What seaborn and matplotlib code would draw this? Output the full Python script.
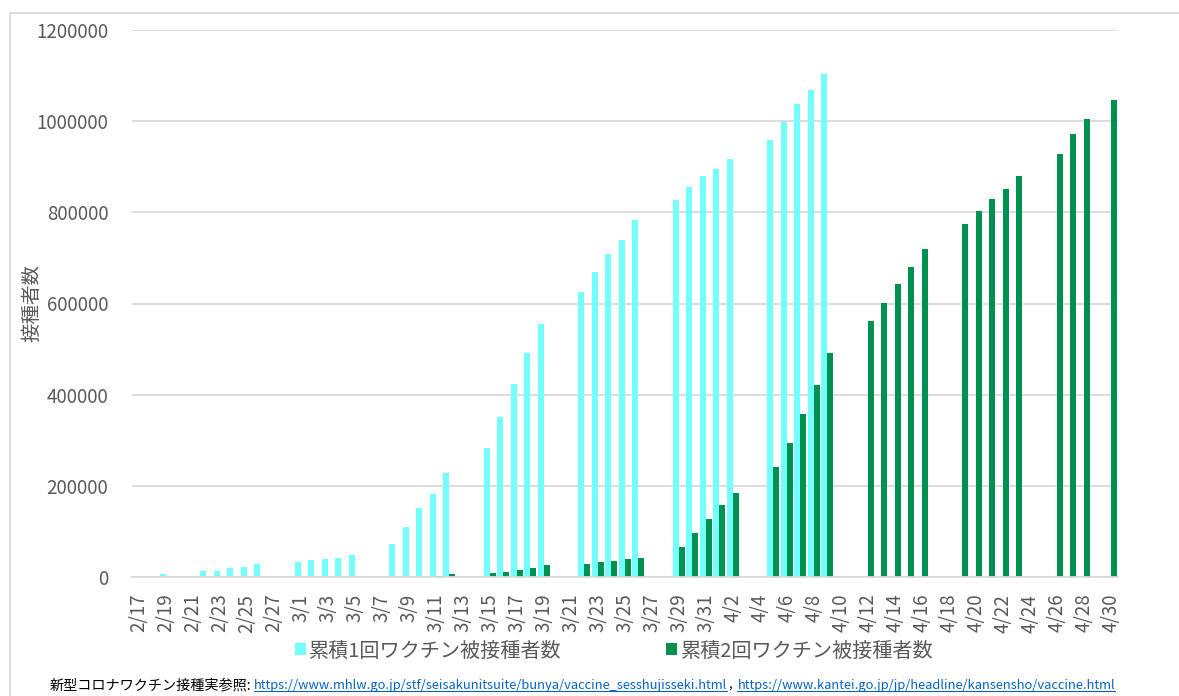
import numpy as np
import pandas as pd
import matplotlib
matplotlib.use("Agg")
import matplotlib.pyplot as plt
from matplotlib.lines import Line2D
from matplotlib.patches import Rectangle
import seaborn as sns

# ---------------- data ----------------
dates = [f"{d.month}/{d.day}" for d in pd.date_range("2021-02-17", "2021-04-30")]
N = None
first_dose = [
    # 2/17 - 2/28
    1500, 2000, 6500, N, N, 13000, 13000, 19000, 23000, 29500, N, N,
    # 3/1 - 3/14
    33500, 36500, 39000, 41500, 48000, N, N, 73000, 110000, 151000, 182500, 229000, N, N,
    # 3/15 - 3/28
    284000, 351000, 424000, 491000, 555000, N, N, 625000, 669000, 709000, 740000, 783000, N, N,
    # 3/29 - 4/11
    828000, 855000, 879000, 895000, 916000, N, N, 959000, 998500, 1038500, 1069000, 1103500, N, N,
    # 4/12 - 4/25
    N, N, N, N, N, N, N, N, N, N, N, N, N, N,
    # 4/26 - 4/30
    N, N, N, N, N,
]
second_dose = [
    # 2/17 - 2/28
    N, N, N, N, N, N, N, N, N, N, N, N,
    # 3/1 - 3/14
    N, N, N, N, N, N, N, N, N, N, 2000, 5500, N, N,
    # 3/15 - 3/28
    8500, 10800, 16000, 19700, 26700, N, N, 29500, 32500, 35600, 38600, 42400, N, N,
    # 3/29 - 4/11
    66600, 97600, 126300, 158100, 185300, N, N, 241300, 293500, 357800, 422100, 491700, N, N,
    # 4/12 - 4/25
    562000, 602100, 643700, 679300, 719400, N, N, 773800, 802600, 828300, 850200, 880500, N, N,
    # 4/26 - 4/30
    928100, 972000, 1003800, N, 1045400,
]
series_names = ["累積1回ワクチン被接種者数", "累積2回ワクチン被接種者数"]
y_ticks = [0, 200000, 400000, 600000, 800000, 1000000, 1200000]
y_label = "接種者数"
footnote_pieces = [
    ("新型コロナワクチン接種実参照:", "black", False, 10.2),
    ("https://www.mhlw.go.jp/stf/seisakunitsuite/bunya/vaccine_sesshujisseki.html", "#0563C1", True, 9.3),
    (", ", "black", False, 9.3),
    ("https://www.kantei.go.jp/jp/headline/kansensho/vaccine.html", "#0563C1", True, 9.3),
]
assert len(dates) == len(first_dose) == len(second_dose) == 73

df = pd.DataFrame({
    "date": dates * 2,
    "series": [series_names[0]] * len(dates) + [series_names[1]] * len(dates),
    "value": [np.nan if v is None else v for v in first_dose]
             + [np.nan if v is None else v for v in second_dose],
})

# ---------------- style ----------------
sns.set_theme(style="white")
plt.rcParams["font.family"] = ["Noto Sans CJK JP", "DejaVu Sans"]
GRAY_TXT = "#595959"
GRID = "#d9d9d9"
CYAN = "#73FFFF"
GREEN = "#00904F"

W, H = 1179, 696
fig = plt.figure(figsize=(W / 100, H / 100), dpi=100)
ax = fig.add_axes([132 / W, 1 - 577 / H, (1117.5 - 132) / W, (577 - 30) / H])

sns.barplot(data=df, x="date", y="value", hue="series", order=dates,
            hue_order=series_names, palette=[CYAN, GREEN], saturation=1, width=0.9,
            dodge=True, errorbar=None, linewidth=0, ax=ax)

ax.set_xlim(-0.5, len(dates) - 0.5)
ax.set_ylim(0, 1200000)
ax.set_yticks(y_ticks)
ax.set_yticklabels([str(v) for v in y_ticks])
ax.yaxis.grid(True, color=GRID, linewidth=1.3)
ax.set_axisbelow(True)
for s in ["top", "right", "left"]:
    ax.spines[s].set_visible(False)
ax.spines["bottom"].set_color(GRID)
ax.spines["bottom"].set_linewidth(1.3)

major = list(range(0, len(dates), 2))
ax.set_xticks(major)
ax.set_xticklabels([dates[i] for i in major], rotation=90)
ax.set_xticks([i - 0.5 for i in major], minor=True)
ax.tick_params(axis="x", which="major", length=0, pad=12, labelsize=13.5, labelcolor=GRAY_TXT)
ax.tick_params(axis="x", which="minor", length=6, width=1.3, color=GRID, direction="out")
ax.tick_params(axis="y", length=0, pad=17, labelsize=13.5, labelcolor=GRAY_TXT)
ax.set_xlabel("")
ax.set_ylabel("")
fig.text(32 / W, 1 - 303 / H, y_label, rotation=90, ha="center", va="center",
         fontsize=14, color=GRAY_TXT)

handles, labels = ax.get_legend_handles_labels()
if ax.get_legend() is not None:
    ax.get_legend().remove()
leg = fig.legend(handles, labels, loc="center", bbox_to_anchor=(614 / W, 1 - 651 / H),
                 ncol=2, frameon=False, fontsize=14.5, handlelength=0.55, handleheight=0.55,
                 handletextpad=0.15, columnspacing=5.2)
for t in leg.get_texts():
    t.set_color(GRAY_TXT)

# outer frame
fig.patches.append(Rectangle((10 / W, -0.1), 1.2, 1.1 - 13 / H, transform=fig.transFigure,
                             fill=False, edgecolor=GRID, linewidth=1.3))

# footnote
fig.canvas.draw()
r = fig.canvas.get_renderer()
x = 50 / W
yf = 1 - 685 / H
for txt, col, ul, fs in footnote_pieces:
    t = fig.text(x, yf, txt, color=col, fontsize=fs, ha="left", va="center")
    bb = t.get_window_extent(r)
    if ul:
        fig.add_artist(Line2D([bb.x0 / W, bb.x1 / W], [(bb.y0 + 0.5) / H] * 2,
                              transform=fig.transFigure, color=col, linewidth=0.8))
    x = bb.x1 / W + 2 / W

fig.savefig("out.png", dpi=100)
